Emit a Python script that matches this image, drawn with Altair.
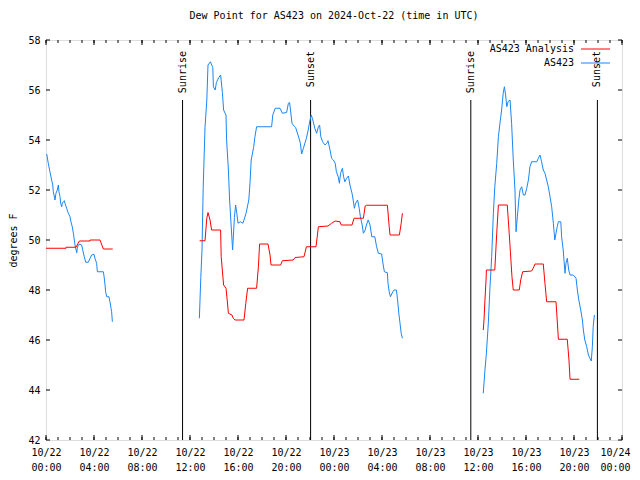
import altair as alt
import pandas as pd

FONT = "DejaVu Sans Mono"
TITLE = "Dew Point for AS423 on 2024-Oct-22 (time in UTC)"

# hours since 2024-10-22 00:00 UTC, dew point in degrees F
OBS1_H = [0.06, 0.19, 0.33, 0.47, 0.56, 0.61, 0.75, 0.83, 0.94, 1.03, 1.08, 1.17, 1.22, 1.31, 1.36, 1.44, 1.53, 1.58,
          1.72, 1.86, 2.0, 2.08, 2.19, 2.28, 2.36, 2.42, 2.56, 2.61, 2.69, 2.83, 2.97, 3.06, 3.19, 3.31, 3.53, 3.67,
          3.81, 4.0, 4.08, 4.22, 4.28, 4.78, 4.86, 4.92, 4.97, 5.06, 5.25, 5.33, 5.42, 5.47, 5.53]
OBS1_V = [53.44, 53.07, 52.73, 52.4, 52.2, 51.93, 51.6, 51.87, 52.0, 52.2, 51.93, 51.73, 51.47, 51.33, 51.47, 51.53,
          51.57, 51.47, 51.27, 51.07, 50.93, 50.73, 50.53, 50.27, 50.0, 49.8, 49.49, 49.67, 49.8, 49.83, 49.8, 49.6,
          49.33, 49.11, 49.11, 49.27, 49.4, 49.43, 49.27, 49.07, 48.73, 48.73, 48.47, 48.2, 47.93, 47.73, 47.73,
          47.53, 47.27, 47.13, 46.73]

OBS2_H = [12.78, 12.9, 13.0, 13.1, 13.25, 13.4, 13.5, 13.7, 13.9, 13.95, 14.1, 14.2, 14.4, 14.55, 14.7, 14.8, 15.0,
          15.05, 15.2, 15.3, 15.5, 15.55, 15.7, 15.8, 15.9, 16.0, 16.2, 16.4, 16.5, 16.67, 16.9, 17.0, 17.1, 17.3,
          17.4, 17.55, 18.8, 18.9, 19.1, 19.5, 19.7, 20.05, 20.2, 20.3, 20.5, 20.6, 20.8, 21.0, 21.2, 21.3, 21.45,
          21.7, 21.85, 22.0, 22.1, 22.2, 22.4, 22.55, 22.7, 22.8, 22.9, 23.05, 23.25, 23.4, 23.5, 23.67, 23.8, 23.95,
          24.1, 24.2, 24.35, 24.45, 24.55, 24.7, 24.8, 24.9, 25.05, 25.2, 25.33, 25.5, 25.6, 25.7, 25.8, 25.97, 26.1,
          26.2, 26.35, 26.45, 26.6, 26.7, 26.85, 27.0, 27.15, 27.4, 27.55, 27.7, 27.97, 28.1, 28.2, 28.45, 28.5,
          28.6, 28.7, 28.9, 29.0, 29.2, 29.3, 29.4, 29.5, 29.6, 29.7]
OBS2_V = [46.87, 48.5, 49.6, 52.1, 54.5, 55.6, 57.0, 57.13, 56.9, 56.13, 56.0, 56.3, 56.5, 56.6, 55.9, 55.2, 55.0,
          54.0, 52.8, 51.6, 50.0, 49.6, 50.9, 51.4, 51.07, 50.67, 50.73, 50.67, 50.8, 51.07, 51.6, 52.27, 53.2, 53.7,
          54.1, 54.53, 54.53, 55.0, 55.27, 55.27, 55.07, 55.1, 55.47, 55.5, 54.67, 54.6, 54.5, 54.2, 53.87, 53.44,
          53.67, 54.07, 54.4, 54.8, 55.0, 54.87, 54.47, 54.27, 54.53, 54.6, 54.13, 53.93, 53.8, 53.87, 53.97, 53.6,
          53.27, 53.2, 53.07, 52.73, 52.53, 52.27, 52.67, 52.87, 52.53, 52.33, 52.47, 52.56, 52.2, 51.87, 51.6,
          51.27, 51.47, 51.6, 51.27, 50.93, 50.6, 50.27, 50.4, 50.6, 50.8, 50.6, 50.13, 50.13, 49.73, 49.47, 49.44,
          49.0, 48.73, 48.69, 48.27, 47.93, 47.73, 47.93, 48.0, 48.0, 47.6, 47.07, 46.67, 46.27, 46.07]

OBS3_H = [36.44, 36.58, 36.7, 36.86, 37.0, 37.14, 37.28, 37.4, 37.56, 37.7, 37.83, 37.97, 38.1, 38.2, 38.3, 38.4,
          38.5, 38.67, 38.8, 38.94, 39.08, 39.17, 39.28, 39.4, 39.5, 39.64, 39.78, 39.92, 40.06, 40.2, 40.33, 40.47,
          40.9, 41.03, 41.17, 41.3, 41.44, 41.58, 41.72, 41.86, 42.0, 42.14, 42.28, 42.4, 42.5, 42.6, 42.7, 42.9,
          42.97, 43.1, 43.25, 43.33, 43.44, 43.56, 43.67, 43.94, 44.17, 44.28, 44.4, 44.56, 44.7, 44.78, 44.9, 45.06,
          45.2, 45.33, 45.44, 45.53, 45.6, 45.7]
OBS3_V = [43.87, 44.8, 45.47, 46.67, 48.13, 49.33, 51.07, 52.13, 53.07, 54.13, 54.67, 55.2, 55.87, 56.13, 55.8,
          55.33, 55.53, 55.6, 54.67, 53.2, 52.0, 50.33, 50.93, 51.6, 52.0, 52.13, 51.8, 51.8, 52.07, 52.4, 52.93,
          53.13, 53.13, 53.27, 53.4, 53.13, 52.8, 52.67, 52.4, 52.13, 51.73, 51.33, 50.67, 50.0, 50.27, 50.53, 50.73,
          50.73, 50.13, 49.6, 48.67, 49.07, 49.27, 48.8, 48.6, 48.6, 48.47, 48.0, 47.6, 47.2, 46.8, 46.4, 46.0,
          45.73, 45.4, 45.27, 45.16, 45.73, 46.53, 47.0]

ANA1_H = [0.0, 1.67, 1.67, 2.5, 2.78, 3.67, 3.67, 4.5, 4.78, 5.56]
ANA1_V = [49.67, 49.67, 49.71, 49.71, 49.96, 49.96, 50.0, 50.0, 49.64, 49.64]

ANA2_H = [12.8, 13.25, 13.4, 13.5, 13.67, 13.8, 14.55, 14.6, 14.8, 15.0, 15.1, 15.2, 15.5, 15.6, 15.75, 16.5, 16.65,
          16.8, 17.55, 17.7, 17.8, 18.5, 18.67, 18.75, 19.55, 19.7, 20.6, 20.75, 21.5, 21.7, 22.5, 22.7, 23.5, 23.8,
          24.1, 24.5, 24.6, 25.5, 25.67, 26.45, 26.6, 26.7, 28.45, 28.6, 28.67, 29.45, 29.6, 29.7]
ANA2_V = [49.97, 49.97, 50.87, 51.1, 50.8, 50.4, 50.4, 49.33, 48.2, 48.07, 47.6, 47.07, 47.0, 46.87, 46.8, 46.8,
          47.47, 48.07, 48.07, 48.93, 49.84, 49.84, 49.4, 49.0, 49.0, 49.17, 49.2, 49.3, 49.33, 49.73, 49.73, 50.53,
          50.56, 50.67, 50.76, 50.73, 50.6, 50.6, 50.87, 50.87, 51.36, 51.39, 51.39, 50.53, 50.2, 50.2, 50.67, 51.07]

ANA3_H = [36.44, 36.5, 36.58, 36.67, 36.7, 37.4, 37.56, 37.7, 38.44, 38.6, 38.7, 38.83, 38.94, 39.44, 39.56, 39.72,
          40.47, 40.6, 40.75, 41.44, 41.58, 41.72, 42.5, 42.6, 42.7, 43.44, 43.58, 43.67, 44.44]
ANA3_V = [46.4, 46.8, 47.6, 48.4, 48.8, 48.8, 50.27, 51.4, 51.4, 50.27, 49.53, 48.53, 48.0, 48.0, 48.4, 48.73, 48.76,
          48.87, 49.04, 49.04, 48.27, 47.53, 47.53, 46.8, 46.03, 46.03, 45.2, 44.43, 44.43]

SUN_H = [11.38, 22.05, 35.4, 45.95]
SUN_LABELS = ["Sunrise", "Sunset", "Sunrise", "Sunset"]

SERIES = ["AS423 Analysis", "AS423"]
COLORS = ["#ff0000", "#1a86f5"]

X_TICKS = list(range(0, 49, 4))
X_TICK_LABELS = [["10/22", "00:00"], ["10/22", "04:00"], ["10/22", "08:00"], ["10/22", "12:00"],
                 ["10/22", "16:00"], ["10/22", "20:00"], ["10/23", "00:00"], ["10/23", "04:00"],
                 ["10/23", "08:00"], ["10/23", "12:00"], ["10/23", "16:00"], ["10/23", "20:00"],
                 ["10/24", "00:00"]]
X_MINOR = list(range(0, 49))
Y_TICKS = list(range(42, 59, 2))

rows = []
for name, seg, hs, vs in [
    ("AS423", "o1", OBS1_H, OBS1_V), ("AS423", "o2", OBS2_H, OBS2_V), ("AS423", "o3", OBS3_H, OBS3_V),
    ("AS423 Analysis", "a1", ANA1_H, ANA1_V), ("AS423 Analysis", "a2", ANA2_H, ANA2_V),
    ("AS423 Analysis", "a3", ANA3_H, ANA3_V)]:
    for h, v in zip(hs, vs):
        rows.append({"hour": h, "dew": v, "series": name, "seg": seg})
df = pd.DataFrame(rows)

W, H = 576, 400
xs = alt.Scale(domain=[0, 48], nice=False, zero=False)
ys = alt.Scale(domain=[42, 58], nice=False, zero=False)

label_expr = "%s[round(datum.value / 4)]" % str(X_TICK_LABELS).replace("'", '"')

lines = alt.Chart(df).mark_line(strokeWidth=1, interpolate="linear").encode(
    x=alt.X("hour:Q", scale=xs, axis=alt.Axis(values=X_TICKS, labelExpr=label_expr, ticks=False, domain=False,
                                              grid=False, title=None, labelFont=FONT, labelFontSize=10,
                                              labelColor="black", labelPadding=7, labelLineHeight=15,
                                              labelFlush=False, labelOverlap=False,
                                              labelOffset={"condition": {"test": "datum.value >= 48",
                                                                         "value": -7}, "value": 0})),
    y=alt.Y("dew:Q", scale=ys, axis=alt.Axis(values=Y_TICKS, ticks=False, domain=False, grid=False,
                                             title="degrees F", titleFont=FONT, titleFontSize=10,
                                             titleFontWeight="normal", titleColor="black", titleX=-33,
                                             titleY=200, titleAngle=270, titleBaseline="middle",
                                             titleAlign="center", labelFont=FONT, labelFontSize=10,
                                             labelColor="black", labelPadding=6)),
    color=alt.Color("series:N", scale=alt.Scale(domain=SERIES, range=COLORS), legend=None),
    detail="seg:N",
)

sun_df = pd.DataFrame({"hour": SUN_H, "label": SUN_LABELS})
sun_rules = alt.Chart(sun_df).mark_rule(color="black", strokeWidth=1).encode(
    x=alt.X("hour:Q", scale=xs), y=alt.value(60), y2=alt.value(H))
sun_text = alt.Chart(sun_df).mark_text(angle=270, align="right", baseline="middle", font=FONT, fontSize=10,
                                       color="black").encode(
    x=alt.X("hour:Q", scale=xs), y=alt.value(11), text="label:N")

maj_df = pd.DataFrame({"hour": X_TICKS})
min_df = pd.DataFrame({"hour": X_MINOR})
yt_df = pd.DataFrame({"dew": Y_TICKS})
tick_parts = []
for d, ln in [(maj_df, 5), (min_df, 3)]:
    tick_parts.append(alt.Chart(d).mark_rule(color="black", strokeWidth=1).encode(
        x=alt.X("hour:Q", scale=xs), y=alt.value(H), y2=alt.value(H - ln)))
    tick_parts.append(alt.Chart(d).mark_rule(color="black", strokeWidth=1).encode(
        x=alt.X("hour:Q", scale=xs), y=alt.value(0), y2=alt.value(ln)))
tick_parts.append(alt.Chart(yt_df).mark_rule(color="black", strokeWidth=1).encode(
    y=alt.Y("dew:Q", scale=ys), x=alt.value(0), x2=alt.value(4)))
tick_parts.append(alt.Chart(yt_df).mark_rule(color="black", strokeWidth=1).encode(
    y=alt.Y("dew:Q", scale=ys), x=alt.value(W), x2=alt.value(W - 4)))

leg_df = pd.DataFrame({"series": SERIES})
leg_parts = []
for i, (name, col) in enumerate(zip(SERIES, COLORS)):
    one = leg_df[leg_df.series == name]
    ypix = 9 + 14 * i
    leg_parts.append(alt.Chart(one).mark_text(align="right", baseline="middle", font=FONT, fontSize=10,
                                              color="black").encode(
        x=alt.value(528), y=alt.value(ypix), text="series:N"))
    leg_parts.append(alt.Chart(one).mark_rule(color=col, strokeWidth=1).encode(
        x=alt.value(535), x2=alt.value(564), y=alt.value(ypix)))

chart = alt.layer(sun_rules, sun_text, *tick_parts, lines, *leg_parts).properties(
    width=W, height=H,
    title=alt.TitleParams(TITLE, font=FONT, fontSize=10, fontWeight="normal", color="black", anchor="middle",
                          offset=14),
    autosize=alt.AutoSizeParams(type="none"),
    padding={"left": 38, "top": 32, "right": 10, "bottom": 32},
).configure_view(stroke="black", strokeWidth=1).configure(background="white")

chart.save("out.html", embed_options={"renderer": "svg", "actions": False})
